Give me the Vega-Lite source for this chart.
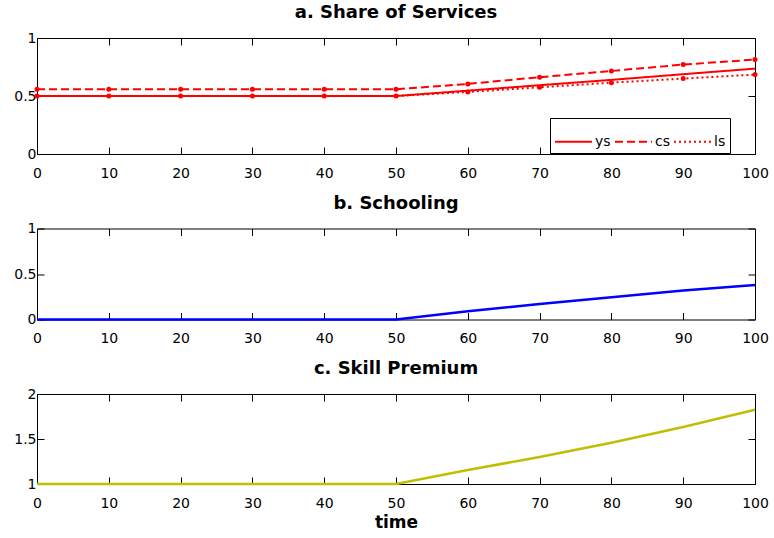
{
  "$schema": "https://vega.github.io/schema/vega-lite/v6.json",
  "padding": {"left": 0, "top": 3, "right": 0, "bottom": 0},
  "background": "white",
  "datasets": {
    "share": [
      {"t": 0, "v": 0.5, "s": "ys"}, {"t": 10, "v": 0.5, "s": "ys"}, {"t": 20, "v": 0.5, "s": "ys"}, {"t": 30, "v": 0.5, "s": "ys"}, {"t": 40, "v": 0.5, "s": "ys"}, {"t": 50, "v": 0.5, "s": "ys"},
      {"t": 60, "v": 0.546, "s": "ys"}, {"t": 70, "v": 0.593, "s": "ys"}, {"t": 80, "v": 0.639, "s": "ys"}, {"t": 90, "v": 0.688, "s": "ys"}, {"t": 100, "v": 0.736, "s": "ys"},
      {"t": 0, "v": 0.558, "s": "cs"}, {"t": 10, "v": 0.558, "s": "cs"}, {"t": 20, "v": 0.558, "s": "cs"}, {"t": 30, "v": 0.558, "s": "cs"}, {"t": 40, "v": 0.558, "s": "cs"}, {"t": 50, "v": 0.558, "s": "cs"},
      {"t": 60, "v": 0.604, "s": "cs"}, {"t": 70, "v": 0.662, "s": "cs"}, {"t": 80, "v": 0.716, "s": "cs"}, {"t": 90, "v": 0.771, "s": "cs"}, {"t": 100, "v": 0.814, "s": "cs"},
      {"t": 0, "v": 0.5, "s": "ls"}, {"t": 10, "v": 0.5, "s": "ls"}, {"t": 20, "v": 0.5, "s": "ls"}, {"t": 30, "v": 0.5, "s": "ls"}, {"t": 40, "v": 0.5, "s": "ls"}, {"t": 50, "v": 0.5, "s": "ls"},
      {"t": 60, "v": 0.535, "s": "ls"}, {"t": 70, "v": 0.575, "s": "ls"}, {"t": 80, "v": 0.615, "s": "ls"}, {"t": 90, "v": 0.65, "s": "ls"}, {"t": 100, "v": 0.685, "s": "ls"}
    ],
    "school": [
      {"t": 0, "v": 0}, {"t": 10, "v": 0}, {"t": 20, "v": 0}, {"t": 30, "v": 0}, {"t": 40, "v": 0}, {"t": 50, "v": 0},
      {"t": 60, "v": 0.09}, {"t": 70, "v": 0.17}, {"t": 80, "v": 0.245}, {"t": 90, "v": 0.318}, {"t": 100, "v": 0.38}
    ],
    "premium": [
      {"t": 0, "v": 1}, {"t": 10, "v": 1}, {"t": 20, "v": 1}, {"t": 30, "v": 1}, {"t": 40, "v": 1}, {"t": 50, "v": 1},
      {"t": 60, "v": 1.155}, {"t": 70, "v": 1.3}, {"t": 80, "v": 1.458}, {"t": 90, "v": 1.634}, {"t": 100, "v": 1.825}
    ]
  },
  "bounds": "flush",
  "spacing": 74.5,
  "vconcat": [
    {
      "width": 718, "height": 116,
      "title": {"text": "a. Share of Services"},
      "data": {"name": "share"},
      "layer": [
        {
          "mark": {"type": "line", "color": "#FF0000", "strokeWidth": 2},
          "encoding": {
            "x": {"field": "t", "type": "quantitative", "scale": {"domain": [0, 100], "nice": false},
                  "axis": {"orient": "bottom", "title": null, "values": [0, 10, 20, 30, 40, 50, 60, 70, 80, 90, 100]}},
            "y": {"field": "v", "type": "quantitative", "scale": {"domain": [0, 1], "nice": false},
                  "axis": {"orient": "left", "title": null, "values": [0, 0.5, 1], "format": "~g"}},
            "strokeDash": {"field": "s", "type": "nominal",
                  "scale": {"domain": ["ys", "cs", "ls"], "range": [[1, 0], [8, 4], [2, 3]]},
                  "legend": {"title": null, "orient": "none", "legendX": 513, "legendY": 80, "direction": "horizontal",
                             "symbolType": "stroke", "symbolSize": 1369, "symbolStrokeWidth": 2, "symbolStrokeColor": "#FF0000",
                             "labelFont": "DejaVu Sans", "labelFontSize": 14, "labelColor": "black", "labelOffset": 2,
                             "columnPadding": 0, "padding": 4, "strokeColor": "black", "fillColor": "white"}}
          }
        },
        {
          "transform": [{"filter": "datum.s !== 'ys'"}],
          "mark": {"type": "point", "filled": true, "color": "#FF0000", "size": 25, "opacity": 1},
          "encoding": {
            "x": {"field": "t", "type": "quantitative", "axis": null},
            "y": {"field": "v", "type": "quantitative", "axis": null}
          }
        },
        {
          "mark": {"type": "line", "strokeOpacity": 0},
          "encoding": {
            "x": {"field": "t", "type": "quantitative", "axis": {"orient": "top", "labels": false, "title": null, "values": [0, 10, 20, 30, 40, 50, 60, 70, 80, 90, 100]}},
            "y": {"field": "v", "type": "quantitative", "axis": {"orient": "right", "labels": false, "title": null, "values": [0, 0.5, 1], "minExtent": 0, "maxExtent": 0}},
            "detail": {"field": "s"}
          }
        }
      ]
    },
    {
      "width": 718, "height": 91,
      "title": {"text": "b. Schooling"},
      "data": {"name": "school"},
      "layer": [
        {
          "mark": {"type": "line", "color": "#0000FF", "strokeWidth": 2.5},
          "encoding": {
            "x": {"field": "t", "type": "quantitative", "scale": {"domain": [0, 100], "nice": false},
                  "axis": {"orient": "bottom", "title": null, "values": [0, 10, 20, 30, 40, 50, 60, 70, 80, 90, 100]}},
            "y": {"field": "v", "type": "quantitative", "scale": {"domain": [0, 1], "nice": false},
                  "axis": {"orient": "left", "title": null, "values": [0, 0.5, 1], "format": "~g"}}
          }
        },
        {
          "mark": {"type": "line", "strokeOpacity": 0},
          "encoding": {
            "x": {"field": "t", "type": "quantitative", "axis": {"orient": "top", "labels": false, "title": null, "values": [0, 10, 20, 30, 40, 50, 60, 70, 80, 90, 100]}},
            "y": {"field": "v", "type": "quantitative", "axis": {"orient": "right", "labels": false, "title": null, "values": [0, 0.5, 1], "minExtent": 0, "maxExtent": 0}}
          }
        }
      ]
    },
    {
      "width": 718, "height": 90,
      "title": {"text": "c. Skill Premium"},
      "data": {"name": "premium"},
      "layer": [
        {
          "mark": {"type": "line", "color": "#BFBF00", "strokeWidth": 2.5},
          "encoding": {
            "x": {"field": "t", "type": "quantitative", "scale": {"domain": [0, 100], "nice": false},
                  "axis": {"orient": "bottom", "title": "time", "values": [0, 10, 20, 30, 40, 50, 60, 70, 80, 90, 100]}},
            "y": {"field": "v", "type": "quantitative", "scale": {"domain": [1, 2], "nice": false, "zero": false},
                  "axis": {"orient": "left", "title": null, "values": [1, 1.5, 2], "format": "~g"}}
          }
        },
        {
          "mark": {"type": "line", "strokeOpacity": 0},
          "encoding": {
            "x": {"field": "t", "type": "quantitative", "axis": {"orient": "top", "labels": false, "title": null, "values": [0, 10, 20, 30, 40, 50, 60, 70, 80, 90, 100]}},
            "y": {"field": "v", "type": "quantitative", "axis": {"orient": "right", "labels": false, "title": null, "values": [1, 1.5, 2], "minExtent": 0, "maxExtent": 0}}
          }
        }
      ]
    }
  ],
  "config": {
    "view": {"stroke": "black", "strokeWidth": 1},
    "axis": {"grid": false, "domain": false, "ticks": true, "tickSize": -7, "tickColor": "black", "tickWidth": 1,
             "labelFont": "DejaVu Sans", "labelFontSize": 14, "labelColor": "black",
             "titleFont": "DejaVu Sans", "titleFontSize": 17, "titleFontWeight": "bold", "titleColor": "black", "titlePadding": 4},
    "axisX": {"labelFlush": false, "labelPadding": 19, "labelOverlap": false},
    "axisY": {"labelPadding": 8, "minExtent": 36, "maxExtent": 36},
    "title": {"font": "DejaVu Sans", "fontSize": 18, "fontWeight": "bold", "color": "black", "anchor": "middle", "frame": "group", "baseline": "alphabetic", "offset": 9}
  }
}
